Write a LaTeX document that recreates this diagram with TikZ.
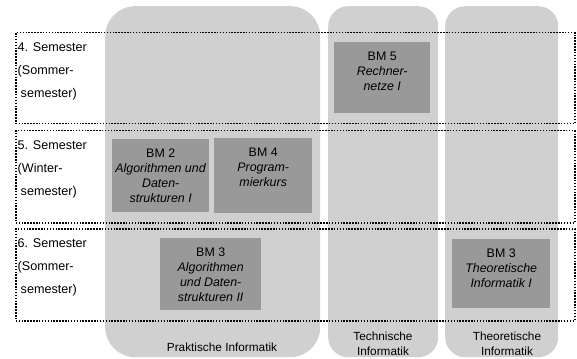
\documentclass[tikz,border=0pt]{standalone}
\usepackage{fontspec}
\setmainfont{Liberation Sans}
\usetikzlibrary{positioning}

\definecolor{spaltengrau}{RGB}{208,208,208}
\definecolor{modulgrau}{RGB}{153,153,153}

\begin{document}
\begin{tikzpicture}[x=1pt, y=-1pt, node distance=10pt]
    \tikzstyle{spalte} = [fill=spaltengrau, inner sep=0pt, anchor=north west]
    \tikzstyle{modul} = [fill=modulgrau, inner sep=0pt, anchor=north west]
    \tikzstyle{modultext} = [align=center, inner sep=0pt,
	font=\fontsize{12.4}{15}\selectfont]
    \tikzstyle{semester} = [draw, line width=1.5pt, dash pattern=on 1.5pt off 1.4pt,
	inner sep=0pt, anchor=north west]
    \tikzstyle{semtext} = [align=left, anchor=north west, inner sep=0pt,
	font=\fontsize{12.6}{22.8}\selectfont]
    \tikzstyle{spaltentext} = [align=center, inner sep=0pt,
	font=\fontsize{11.8}{15}\selectfont]

	\useasboundingbox (0,0) rectangle (577,358);

	% Saeulen
	\node[spalte, rounded corners=30pt, minimum width=215pt, minimum height=351pt]
		(prakt) at (105,6) {};
	\node[spalte, rounded corners=20pt, minimum width=110pt, minimum height=351pt]
		(techn) at (328,6) {};
	\node[spalte, rounded corners=20pt, minimum width=113pt, minimum height=351pt]
		(theo) at (445,6) {};

	\node[spaltentext] (praktlabel) at (222,347.5) {Praktische Informatik};
	\node[spaltentext] (technlabel) at (383,343.5) {Technische\\Informatik};
	\node[spaltentext] (theolabel) at (507,344) {Theoretische\\Informatik};

	% Semester
	\node[semester, minimum width=559pt, minimum height=91pt] (semvier) at (15,32) {};
	\node[semester, minimum width=559pt, minimum height=92pt] (semfuenf) at (15,130) {};
	\node[semester, minimum width=559pt, minimum height=92pt] (semsechs) at (15,228) {};

	\node[semtext] (semvierlabel) at (17.5,42.5)
		{4. Semester\\(Sommer-\\\hspace*{3pt}semester)};
	\node[semtext] (semfuenflabel) at (17.5,140.5)
		{5. Semester\\(Winter-\\\hspace*{3pt}semester)};
	\node[semtext] (semsechslabel) at (17.5,238.5)
		{6. Semester\\(Sommer-\\\hspace*{3pt}semester)};

	% Module
	\node[modul, minimum width=96pt, minimum height=71pt] (bmfuenf) at (334,42) {};
	\node[modul, minimum width=97pt, minimum height=73pt] (bmzwei) at (112,139) {};
	\node[modul, minimum width=98pt, minimum height=75pt] (bmvier) at (214,138) {};
	\node[modul, minimum width=101pt, minimum height=72pt] (bmdrei) at (160,238) {};
	\node[modul, minimum width=98pt, minimum height=69pt] (bmtheo) at (452,239) {};

	\node[modultext, below=9.5pt of bmfuenf.north] (bmfuenftext)
		{BM 5\\\textit{Rechner-}\\\textit{netze I}};
	\node[modultext, below=9.5pt of bmzwei.north] (bmzweitext)
		{BM 2\\\textit{Algorithmen und}\\\textit{Daten-}\\\textit{strukturen I}};
	\node[modultext, below=9.5pt of bmvier.north] (bmviertext)
		{BM 4\\\textit{Program-}\\\textit{mierkurs}};
	\node[modultext, below=9.5pt of bmdrei.north] (bmdreitext)
		{BM 3\\\textit{Algorithmen}\\\textit{und Daten-}\\\textit{strukturen II}};
	\node[modultext, below=9.5pt of bmtheo.north] (bmtheotext)
		{BM 3\\\textit{Theoretische}\\\textit{Informatik I}};
\end{tikzpicture}
\end{document}
